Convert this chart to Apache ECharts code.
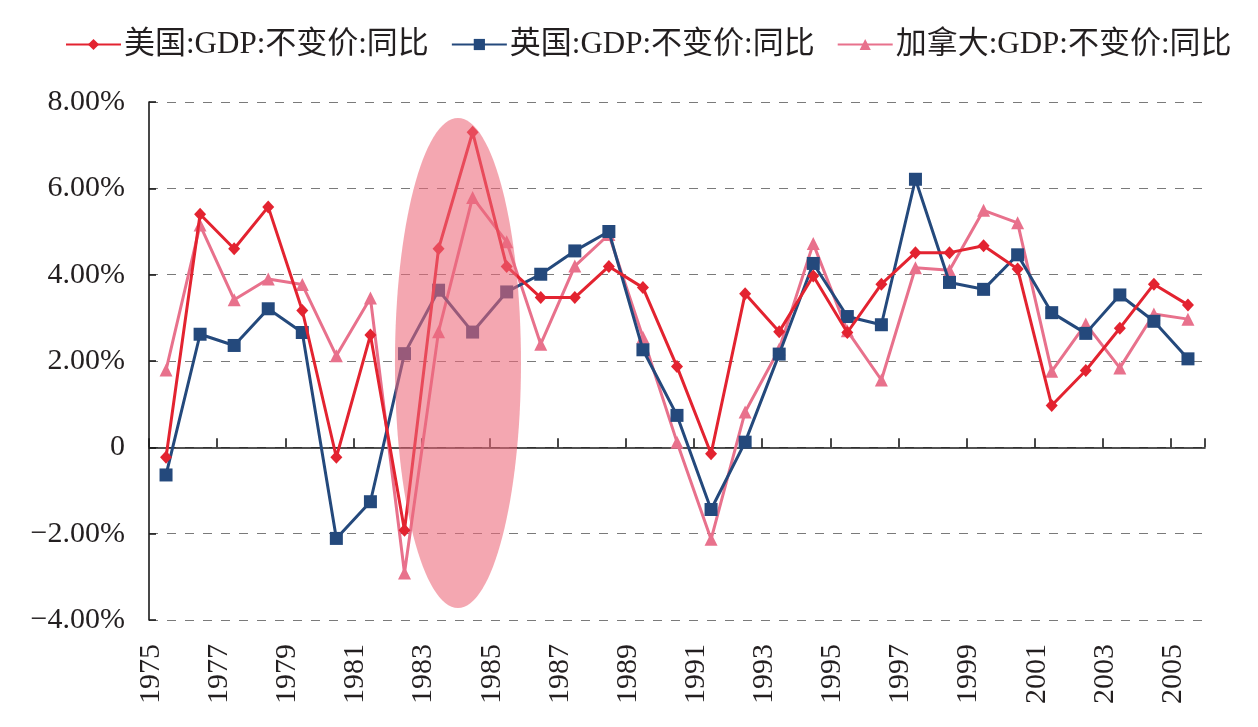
<!DOCTYPE html>
<html>
<head>
<meta charset="utf-8">
<script src="https://cdn.jsdelivr.net/npm/echarts@6/dist/echarts.min.js"></script>
<style>
html,body{margin:0;padding:0;background:#fff;}
#chart{width:1258px;height:727px;}
</style>
</head>
<body>
<div id="chart"></div>
<script>
const years = ['1975','1976','1977','1978','1979','1980','1981','1982','1983','1984','1985','1986','1987','1988','1989','1990','1991','1992','1993','1994','1995','1996','1997','1998','1999','2000','2001','2002','2003','2004','2005'];
const seriesNames = ['美国:GDP:不变价:同比','英国:GDP:不变价:同比','加拿大:GDP:不变价:同比'];
const usGrowth = [-0.23,5.40,4.60,5.57,3.17,-0.23,2.60,-1.92,4.60,7.30,4.19,3.47,3.47,4.19,3.70,1.87,-0.15,3.56,2.68,3.97,2.66,3.78,4.51,4.51,4.67,4.13,0.97,1.78,2.76,3.78,3.30];
const ukGrowth = [-0.64,2.62,2.36,3.21,2.66,-2.11,-1.26,2.17,3.64,2.67,3.60,4.01,4.55,5.00,2.26,0.74,-1.44,0.12,2.16,4.26,3.03,2.84,6.21,3.82,3.66,4.46,3.12,2.64,3.53,2.92,2.05];
const caGrowth = [1.79,5.15,3.42,3.90,3.77,2.12,3.46,-2.91,2.68,5.79,4.76,2.39,4.20,4.93,2.55,0.12,-2.13,0.82,2.28,4.72,2.70,1.56,4.16,4.10,5.49,5.20,1.76,2.86,1.84,3.09,2.97];
const yTicks = {min:-4, max:8, interval:2};
// highlighted period (annotation ellipse) in data terms
const highlight = {fromYear:'1983', toYear:'1984', frac:0.57, halfWidthCats:1.85, top:7.63, bottom:-3.72};

const serif = '"Liberation Serif","Times New Roman",serif';
const legendFont = '"Liberation Serif","Noto Sans CJK SC",serif';
const textColor = '#231f20';
const colors = ['#e32330','#24497c','#e8718c'];

function fmtY(v){
  if (v === 0) return '0';
  const s = Math.abs(v).toFixed(2) + '%';
  return v < 0 ? '\u2212' + s : s;
}

const chart = echarts.init(document.getElementById('chart'), null, {renderer:'canvas'});
const option = {
  backgroundColor:'#ffffff',
  animation:false,
  color: colors,
  legend:{
    top: 24,
    left: 60,
    itemWidth: 55,
    itemHeight: 14,
    itemGap: 22,
    textStyle:{fontFamily: legendFont, fontSize: 31, color: textColor, padding:[0,0,0,-2]},
    data: seriesNames
  },
  grid:{left:149, right:53, top:102, bottom:107, containLabel:false},
  xAxis:[{
    type:'category',
    data: years,
    boundaryGap:true,
    axisLine:{show:true, onZero:true, lineStyle:{color:'#1a1a1a', width:1.6}},
    axisTick:{show:true, interval:1, inside:true, length:9, lineStyle:{color:'#1a1a1a', width:1.6}},
    axisLabel:{show:false},
    splitLine:{show:false}
  },{
    type:'category',
    data: years,
    position:'bottom',
    boundaryGap:true,
    axisLine:{show:false, onZero:false},
    axisTick:{show:false},
    axisLabel:{show:true, interval:1, rotate:90, margin:24, fontFamily: serif, fontSize:30, color:textColor, verticalAlign:'bottom', lineHeight:30},
    splitLine:{show:false}
  }],
  yAxis:{
    type:'value',
    min: yTicks.min, max: yTicks.max, interval: yTicks.interval,
    axisLine:{show:true, lineStyle:{color:'#1a1a1a', width:1.6}},
    axisTick:{show:true, inside:true, length:7, lineStyle:{color:'#1a1a1a', width:1.6}},
    axisLabel:{formatter: fmtY, fontFamily: serif, fontSize:30, color:textColor, margin:24},
    splitLine:{show:true, lineStyle:{color:'#7a7a7a', type:[9,9], width:1}}
  },
  series:[
    {name: seriesNames[0], type:'line', data: usGrowth, xAxisIndex:0, symbol:'diamond', symbolSize:[12,13], showAllSymbol:true, lineStyle:{width:3}, itemStyle:{color:colors[0]}, z:4},
    {name: seriesNames[1], type:'line', data: ukGrowth, xAxisIndex:0, symbol:'rect', symbolSize:13, showAllSymbol:true, lineStyle:{width:3}, itemStyle:{color:colors[1]}, z:3},
    {name: seriesNames[2], type:'line', data: caGrowth, xAxisIndex:0, symbol:'triangle', symbolSize:13, showAllSymbol:true, lineStyle:{width:3}, itemStyle:{color:colors[2]}, z:2}
  ]
};
chart.setOption(option);

// annotation ellipse, positioned through the chart's own scales
const pA = chart.convertToPixel({xAxisIndex:0, yAxisIndex:0}, [highlight.fromYear, highlight.top]);
const pB = chart.convertToPixel({xAxisIndex:0, yAxisIndex:0}, [highlight.toYear, highlight.bottom]);
const step = pB[0] - pA[0];
const cx = pA[0] + step * highlight.frac;
const cy = (pA[1] + pB[1]) / 2;
chart.setOption({
  graphic:[{
    type:'ellipse',
    shape:{cx: cx, cy: cy, rx: step * highlight.halfWidthCats, ry: (pB[1] - pA[1]) / 2},
    style:{fill:'rgba(236,104,120,0.58)'},
    z: 100,
    silent:true
  }]
});
</script>
</body>
</html>
